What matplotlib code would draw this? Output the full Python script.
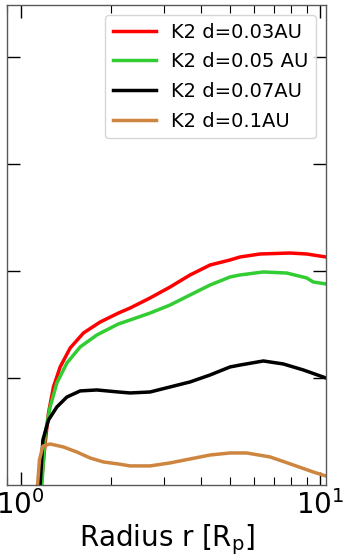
import matplotlib
matplotlib.use("Agg")
import matplotlib.pyplot as plt
from matplotlib.ticker import NullFormatter

# radio (en R_p) y perfil de cada curva
r_003 = [1.170, 1.207, 1.238, 1.286, 1.354, 1.462, 1.620, 1.841, 2.118, 2.317, 2.702, 3.149, 3.673, 4.282, 4.992, 5.391, 6.285, 7.912, 8.995, 10.43]
v_003 = [0.0, 0.393, 0.673, 0.916, 1.103, 1.280, 1.421, 1.523, 1.607, 1.654, 1.748, 1.850, 1.963, 2.056, 2.103, 2.131, 2.159, 2.168, 2.159, 2.131]

r_005 = [1.177, 1.207, 1.254, 1.320, 1.426, 1.579, 1.795, 2.118, 2.317, 2.702, 3.149, 3.673, 4.282, 4.992, 5.391, 6.448, 7.715, 8.995, 9.462, 10.43]
v_005 = [0.0, 0.486, 0.729, 0.953, 1.140, 1.290, 1.402, 1.505, 1.542, 1.607, 1.682, 1.776, 1.869, 1.944, 1.963, 1.991, 1.981, 1.935, 1.897, 1.879]

r_007 = [1.161, 1.186, 1.238, 1.320, 1.426, 1.579, 1.795, 2.118, 2.317, 2.702, 3.149, 3.673, 4.282, 4.992, 5.391, 6.448, 7.516, 8.765, 10.43]
v_007 = [0.0, 0.421, 0.607, 0.729, 0.822, 0.879, 0.888, 0.869, 0.860, 0.869, 0.916, 0.963, 1.028, 1.103, 1.121, 1.159, 1.131, 1.075, 1.0]

r_01 = [1.138, 1.155, 1.186, 1.254, 1.389, 1.539, 1.705, 1.888, 2.118, 2.317, 2.702, 3.149, 3.673, 4.282, 4.992, 5.675, 6.787, 8.115, 9.462, 10.43]
v_01 = [0.0, 0.234, 0.364, 0.383, 0.355, 0.308, 0.252, 0.215, 0.196, 0.178, 0.178, 0.206, 0.243, 0.280, 0.299, 0.299, 0.262, 0.187, 0.121, 0.084]

etiquetas = ['K2 d=0.03AU', 'K2 d=0.05 AU', 'K2 d=0.07AU', 'K2 d=0.1AU']
colores = ['red', 'limegreen', 'black', 'peru']

fig = plt.figure(figsize=(3.49, 5.6), dpi=100)
ax = fig.add_axes([0.020, 0.134, 0.914, 0.857])

for r, v, lab, c in zip([r_003, r_005, r_007, r_01], [v_003, v_005, v_007, v_01], etiquetas, colores):
    ax.plot(r, v, color=c, lw=2.5, label=lab)

ax.set_xscale('log')
ax.set_xlim(0.9, 10.43)
ax.set_ylim(0, 4.486)
ax.set_yticks([1, 2, 3, 4])
ax.yaxis.set_major_formatter(NullFormatter())
ax.xaxis.set_minor_formatter(NullFormatter())

ax.tick_params(which='both', direction='in', top=True, right=True)
ax.tick_params(which='major', length=9.5, width=1, labelsize=20)
ax.tick_params(which='minor', length=6, width=0.8)
for s in ax.spines.values():
    s.set_color('0.35')
    s.set_linewidth(1.0)

ax.set_xlabel('Radius r [R$_\\mathrm{p}$]', fontsize=20, labelpad=2)

ax.legend(loc='upper right', fontsize=14, handlelength=2.2, handletextpad=0.8, labelspacing=0.55)

fig.savefig('out.png', dpi=100)
